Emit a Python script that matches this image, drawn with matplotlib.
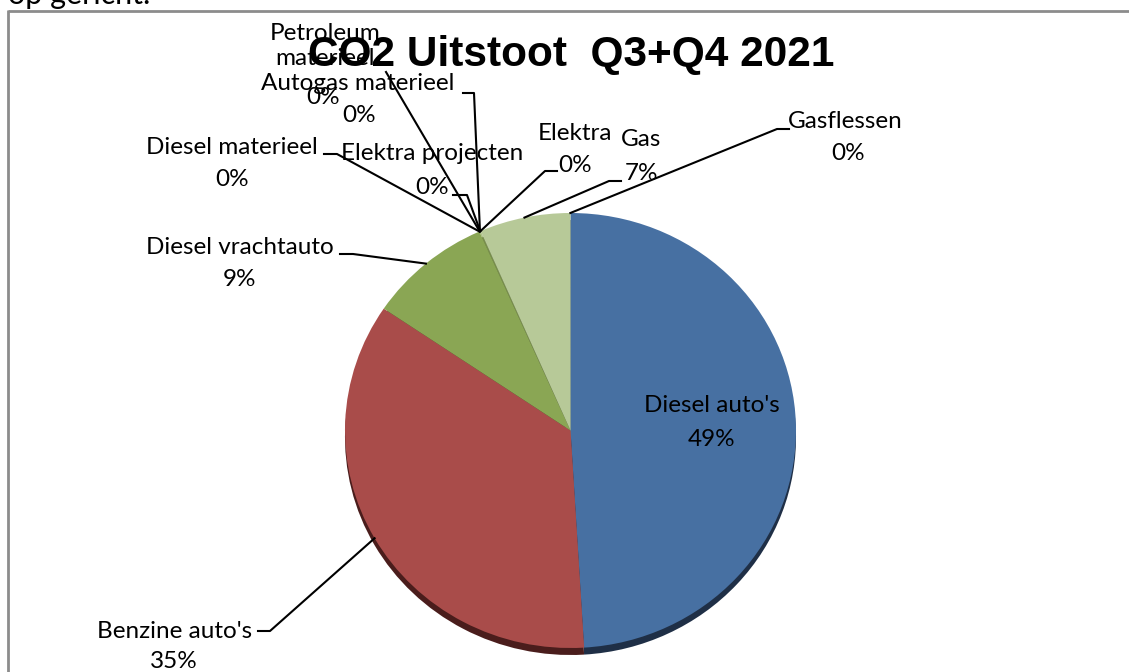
import matplotlib.pyplot as plt
import numpy as np

# data: CO2 uitstoot per bron, Q3+Q4 2021 (in procenten)
categorieen = ["Diesel auto's", "Benzine auto's", "Diesel vrachtauto", "Diesel materieel",
               "Petroleum materieel", "Autogas materieel", "Elektra projecten", "Elektra",
               "Gas", "Gasflessen"]
waarden = [49.0, 35.4, 8.9, 0.02, 0.02, 0.02, 0.02, 0.02, 6.5, 0.02]
kleuren = ["#4770a2", "#a94c4a", "#8aa654", "#8aa654", "#8aa654", "#8aa654",
           "#8aa654", "#8aa654", "#b7c998", "#b7c998"]
schaduw = ["#1f2f46", "#4a1d1c", "#3a4a22", "#3a4a22", "#3a4a22", "#3a4a22",
           "#3a4a22", "#3a4a22", "#56603f", "#56603f"]
titel = "CO2 Uitstoot  Q3+Q4 2021"

W, H = 1129, 672

# label layout in pixels (naam-positie, procent-positie, knik, eind van lijn)
layout = {
    "Gasflessen":          ((845, 122), (848, 153), (777, 129), (789, 129)),
    "Gas":                 ((641, 140), (642, 173), (609, 181), (621, 181)),
    "Elektra":             ((575, 133), (575, 165), (545, 171), (557, 171)),
    "Elektra projecten":   ((432, 154), (432, 188), (467, 195), (453, 195)),
    "Diesel materieel":    ((232, 147), (232, 180), (337, 154), (324, 154)),
    "Diesel vrachtauto":   ((240, 248), (240, 280), (353, 254), (340, 254)),
    "Petroleum materieel": ((325, 46), (323, 97), (386, 72), (386, 72)),
    "Autogas materieel":   ((358, 84), (359, 115), (474, 93), (463, 93)),
    "Benzine auto's":      ((175, 631), (174, 661), (270, 631), (258, 631)),
    "Diesel auto's":       ((712, 406), (712, 440), None, None),
}
weergave = {"Petroleum materieel": "Petroleum\nmaterieel"}

fig = plt.figure(figsize=(W / 100, H / 100), dpi=100)
fig.patch.set_facecolor("white")

# schaduw onder de taart
pie_box = [345 / W, (H - 648) / H, 451 / W, 435 / H]
ax_s = fig.add_axes([pie_box[0], pie_box[1] - 7 / H, pie_box[2], pie_box[3]])
ax_s.pie(waarden, colors=schaduw, startangle=90, counterclock=False)
ax_s.set_aspect("auto")
ax_s.set_xlim(-1, 1)
ax_s.set_ylim(-1, 1)
ax_s.axis("off")

ax_p = fig.add_axes(pie_box)
wedges, _ = ax_p.pie(waarden, colors=kleuren, startangle=90, counterclock=False)
ax_p.set_aspect("auto")
ax_p.set_xlim(-1, 1)
ax_p.set_ylim(-1, 1)
ax_p.axis("off")

# overlay in pixel coordinaten
ax = fig.add_axes([0, 0, 1, 1])
ax.set_xlim(0, W)
ax.set_ylim(H, 0)
ax.axis("off")
ax.patch.set_alpha(0)

# rand van de grafiek en tekst erboven
ax.plot([8, W], [10.5, 10.5], color="#8c8c8c", lw=2, solid_capstyle="butt")
ax.plot([7.5, 7.5], [10, H], color="#8c8c8c", lw=2, solid_capstyle="butt")
ax.text(8, 4, "op gericht.", fontsize=22, family="Lato", ha="left", va="baseline")

totaal = sum(waarden)
for w, naam, v in zip(wedges, categorieen, waarden):
    naam_xy, pct_xy, knik, eind = layout[naam]
    tekst = weergave.get(naam, naam)
    pct = f"{round(v / totaal * 100)}%"
    ax.text(*naam_xy, tekst, fontsize=17.5, family="Lato", ha="center", va="center",
            linespacing=1.2, zorder=5)
    ax.text(*pct_xy, pct, fontsize=17.5, family="Lato", ha="center", va="center", zorder=5)
    if knik is None:
        continue
    mid = np.deg2rad((w.theta1 + w.theta2) / 2)
    disp = ax_p.transData.transform((np.cos(mid), np.sin(mid)))
    px, py = ax.transData.inverted().transform(disp)
    ax.plot([px, knik[0], eind[0]], [py, knik[1], eind[1]], color="black", lw=1.5, zorder=4)

ax.text(571, 55, titel, fontsize=30.5, family="Liberation Sans", weight="bold",
        ha="center", va="center", zorder=6)

fig.savefig("out.png", dpi=100)
